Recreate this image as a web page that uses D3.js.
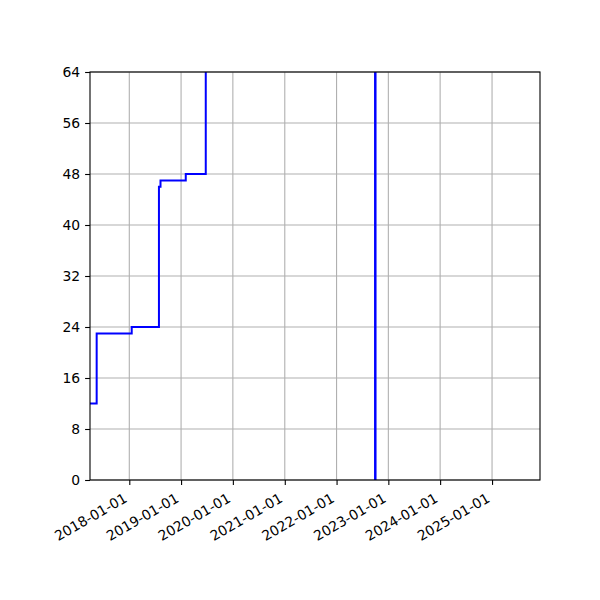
<!DOCTYPE html>
<html><head><meta charset="utf-8">
<script src="https://cdn.jsdelivr.net/npm/d3@7"></script>
<style>body{margin:0;background:#fff}svg{display:block}text{font-family:"DejaVu Sans",sans-serif}</style>
</head><body><svg id="c" width="600" height="600"></svg>
<script>
// Data
const stepDates = ["2017-03-30","2017-05-16","2018-01-18","2018-07-29","2018-08-09","2019-02-03","2019-06-24","2022-10-01"];
const stepValues = [12, 23, 24, 46, 47, 48, 100, 100];
const markerDate = "2022-10-01";
const xDomain = ["2017-03-30","2025-12-05"];
const xTickDates = ["2018-01-01","2019-01-01","2020-01-01","2021-01-01","2022-01-01","2023-01-01","2024-01-01","2025-01-01"];
const yTicks = [0, 8, 16, 24, 32, 40, 48, 56, 64];

const parse = d3.utcParse("%Y-%m-%d");
const fmt = d3.utcFormat("%Y-%m-%d");
const L = 90, R = 540, T = 72, B = 480;
const svg = d3.select("#c");
const x = d3.scaleUtc().domain(xDomain.map(parse)).range([L, R]);
const y = d3.scaleLinear().domain([0, 64]).range([B, T]);

svg.append("defs").append("clipPath").attr("id","clip")
  .append("rect").attr("x",L).attr("y",T).attr("width",R-L).attr("height",B-T);

// grid
const g = svg.append("g");
g.selectAll(".gx").data(xTickDates.map(parse)).join("line")
  .attr("x1",d=>x(d)).attr("x2",d=>x(d)).attr("y1",T).attr("y2",B)
  .attr("stroke","#b0b0b0").attr("stroke-width",1.1);
g.selectAll(".gy").data(yTicks).join("line")
  .attr("y1",d=>y(d)).attr("y2",d=>y(d)).attr("x1",L).attr("x2",R)
  .attr("stroke","#b0b0b0").attr("stroke-width",1.1);

// data
const pts = stepDates.map((d,i)=>({d:parse(d), v:stepValues[i]}));
const line = d3.line().x(p=>x(p.d)).y(p=>y(p.v)).curve(d3.curveStepAfter);
const plot = svg.append("g").attr("clip-path","url(#clip)");
plot.append("path").datum(pts).attr("d",line)
  .attr("fill","none").attr("stroke","#0000ff").attr("stroke-width",2);
plot.append("line")
  .attr("x1",x(parse(markerDate))).attr("x2",x(parse(markerDate)))
  .attr("y1",y(0)).attr("y2",y(64))
  .attr("stroke","#0000ff").attr("stroke-width",2.5);

// axes
const xAxis = svg.append("g").attr("transform",`translate(0,${B})`)
  .call(d3.axisBottom(x).tickValues(xTickDates.map(parse)).tickFormat(fmt).tickSize(4.9).tickPadding(4.9));
xAxis.select(".domain").remove();
xAxis.selectAll("line").attr("stroke","#000").attr("stroke-width",1.1);
xAxis.selectAll("text")
  .attr("font-size","13.9px").attr("fill","#000")
  .attr("text-anchor","end").attr("dy",null).attr("y",0)
  .attr("transform","translate(-1.7,21) rotate(-30)");

const yAxis = svg.append("g").attr("transform",`translate(${L},0)`)
  .call(d3.axisLeft(y).tickValues(yTicks).tickFormat(d3.format("d")).tickSize(4.9).tickPadding(4.9));
yAxis.select(".domain").remove();
yAxis.selectAll("line").attr("stroke","#000").attr("stroke-width",1.1);
yAxis.selectAll("text").attr("font-size","13.9px").attr("fill","#000");

svg.append("rect").attr("x",L).attr("y",T).attr("width",R-L).attr("height",B-T)
  .attr("fill","none").attr("stroke","#000").attr("stroke-width",1.1);
</script></body></html>
